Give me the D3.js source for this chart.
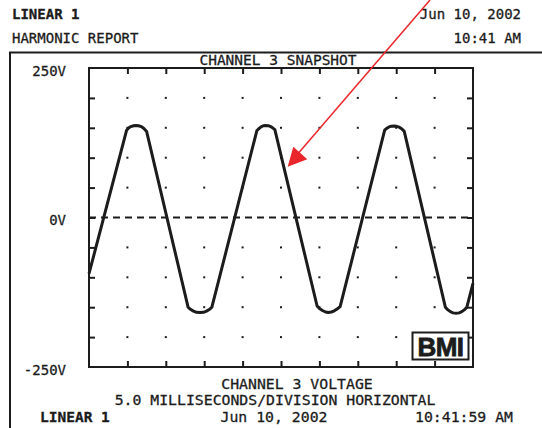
<!DOCTYPE html>
<html>
<head>
<meta charset="utf-8">
<script src="https://cdn.jsdelivr.net/npm/d3@7/dist/d3.min.js"></script>
<style>
  body { margin: 0; background: #fff; }
  text { font-family: "DejaVu Sans Mono", monospace; fill: #1c1c1c; stroke: #1c1c1c; stroke-width: 0.3px; }
</style>
</head>
<body>
<div id="chart"></div>
<script>
var width = 542,
    height = 428,
    ink = "#1c1c1c";

// waveform (time in ms, voltage in V)
var timeMs = [0, 4.9, 5.15, 5.45, 5.8, 6.1, 6.45, 6.8, 7.15, 7.5,
  12.9, 13.2, 13.6, 14.0, 14.45, 14.9, 15.3, 15.7, 16.0,
  21.85, 22.1, 22.4, 22.7, 23.0, 23.35, 23.65, 23.95, 24.2,
  29.7, 30.0, 30.4, 30.8, 31.15, 31.55, 31.95, 32.35, 32.7,
  38.5, 38.75, 39.05, 39.35, 39.7, 40.05, 40.4, 40.75, 41.05,
  46.4, 46.7, 47.05, 47.4, 47.8, 48.2, 48.55, 48.9, 49.2, 50];
var volts = [-94, 146, 149.5, 152, 153.5, 154, 153.5, 152, 149, 144,
  -150, -153.5, -156.5, -158.5, -159, -158.5, -156.5, -153.5, -150,
  145, 148.5, 151.5, 153.5, 154, 153.5, 152, 149.5, 147,
  -148, -152, -155.5, -158, -159, -158, -156, -152.5, -149,
  146, 149, 151.5, 152.5, 153, 152.5, 151, 148, 144,
  -150, -154, -157.5, -159.5, -160, -159.5, -157.5, -154, -150, -110];

var xTicks = [5, 10, 15, 20, 25, 30, 35, 40, 45];
var yTicks = [-200, -150, -100, -50, 0, 50, 100, 150, 200];
var yLabelValues = [250, 0, -250];
var yLabels = ["250V", "0V", "-250V"];

var x = d3.scaleLinear().domain([0, 50]).range([89, 473]);
var y = d3.scaleLinear().domain([-250, 250]).range([367, 68]);

var svg = d3.select("#chart").append("svg")
    .attr("width", width)
    .attr("height", height);

svg.append("rect").attr("width", width).attr("height", height).attr("fill", "#fff");

// header
svg.append("text").attr("x", 12).attr("y", 19).attr("font-size", 14).attr("font-weight", "bold").text("LINEAR 1");
svg.append("text").attr("x", 12).attr("y", 43).attr("font-size", 14).text("HARMONIC REPORT");
svg.append("text").attr("x", 521).attr("y", 19).attr("font-size", 14).attr("text-anchor", "end").text("Jun 10, 2002");
svg.append("text").attr("x", 521).attr("y", 43).attr("font-size", 14).attr("text-anchor", "end").text("10:41 AM");

// outer frame (only top and left show)
svg.append("path")
    .attr("d", "M10,428V52.5H542")
    .attr("fill", "none")
    .attr("stroke", ink)
    .attr("stroke-width", 2);

svg.append("text").attr("x", 278).attr("y", 65).attr("font-size", 14.5)
    .attr("text-anchor", "middle").text("CHANNEL 3 SNAPSHOT");

// grid dots
var dots = [];
xTicks.forEach(function (t) {
  yTicks.forEach(function (v) { if (v !== 0) dots.push([t, v]); });
});
svg.append("g").selectAll("rect")
    .data(dots)
    .enter().append("rect")
    .attr("x", function (d) { return x(d[0]) - 1; })
    .attr("y", function (d) { return y(d[1]) - 1; })
    .attr("width", 2)
    .attr("height", 2)
    .attr("fill", ink);

// zero line
svg.append("line")
    .attr("x1", x(0)).attr("x2", x(50))
    .attr("y1", y(0)).attr("y2", y(0))
    .attr("stroke", ink)
    .attr("stroke-width", 2)
    .attr("stroke-dasharray", "7,5");

// inward ticks on all four sides
function tickStyle(g) {
  g.select(".domain").remove();
  g.selectAll(".tick line").attr("stroke", ink).attr("stroke-width", 2);
  g.selectAll(".tick text").remove();
}
svg.append("g").attr("transform", "translate(0," + y(250) + ")")
    .call(d3.axisBottom(x).tickValues(xTicks).tickSize(6)).call(tickStyle);
svg.append("g").attr("transform", "translate(0," + y(-250) + ")")
    .call(d3.axisTop(x).tickValues(xTicks).tickSize(6)).call(tickStyle);
svg.append("g").attr("transform", "translate(" + x(0) + ",0)")
    .call(d3.axisRight(y).tickValues(yTicks).tickSize(6)).call(tickStyle);
svg.append("g").attr("transform", "translate(" + x(50) + ",0)")
    .call(d3.axisLeft(y).tickValues(yTicks).tickSize(6)).call(tickStyle);

// y labels
var yAxis = svg.append("g").attr("transform", "translate(66,0)")
    .call(d3.axisLeft(y).tickValues(yLabelValues).tickSize(0)
      .tickFormat(function (d, i) { return yLabels[i]; }));
yAxis.select(".domain").remove();
yAxis.selectAll("text")
    .attr("x", 0)
    .attr("dy", "0.5em")
    .attr("font-size", 14)
    .attr("font-family", "DejaVu Sans Mono")
    .attr("fill", ink);

// plot frame
svg.append("rect")
    .attr("x", x(0)).attr("y", y(250))
    .attr("width", x(50) - x(0))
    .attr("height", y(-250) - y(250))
    .attr("fill", "none")
    .attr("stroke", ink)
    .attr("stroke-width", 2);

// waveform
var line = d3.line()
    .x(function (d, i) { return x(timeMs[i]); })
    .y(function (d) { return y(d); });

svg.append("path")
    .datum(volts)
    .attr("d", line)
    .attr("fill", "none")
    .attr("stroke", ink)
    .attr("stroke-width", 3)
    .attr("stroke-linejoin", "round");

// BMI logo
svg.append("rect")
    .attr("x", 412.5).attr("y", 332.5)
    .attr("width", 56).attr("height", 27)
    .attr("fill", "#fff")
    .attr("stroke", ink)
    .attr("stroke-width", 2);
svg.append("text")
    .attr("x", 440.5).attr("y", 356)
    .attr("text-anchor", "middle")
    .attr("font-size", 26)
    .attr("font-weight", "bold")
    .style("font-family", "'Liberation Sans', Arial, sans-serif")
    .style("stroke-width", "0.8px")
    .attr("letter-spacing", -0.5)
    .text("BMI");

// footer
svg.append("text").attr("x", 297).attr("y", 389).attr("font-size", 14.8)
    .attr("text-anchor", "middle").text("CHANNEL 3 VOLTAGE");
svg.append("text").attr("x", 275).attr("y", 405).attr("font-size", 14.8)
    .attr("text-anchor", "middle").text("5.0 MILLISECONDS/DIVISION HORIZONTAL");
svg.append("text").attr("x", 40).attr("y", 422).attr("font-size", 14.5)
    .attr("font-weight", "bold").text("LINEAR 1");
svg.append("text").attr("x", 274).attr("y", 422).attr("font-size", 14.8)
    .attr("text-anchor", "middle").text("Jun 10, 2002");
svg.append("text").attr("x", 415).attr("y", 422).attr("font-size", 14.8)
    .text("10:41:59 AM");

// red annotation arrow
var red = "#e8262b";
svg.append("line")
    .attr("x1", 430).attr("y1", 0)
    .attr("x2", 296).attr("y2", 156)
    .attr("stroke", red)
    .attr("stroke-width", 1.5);
svg.append("path")
    .attr("d", "M287.7,166.7L293.3,146.7L307.3,159.3Z")
    .attr("fill", red);
</script>
</body>
</html>
